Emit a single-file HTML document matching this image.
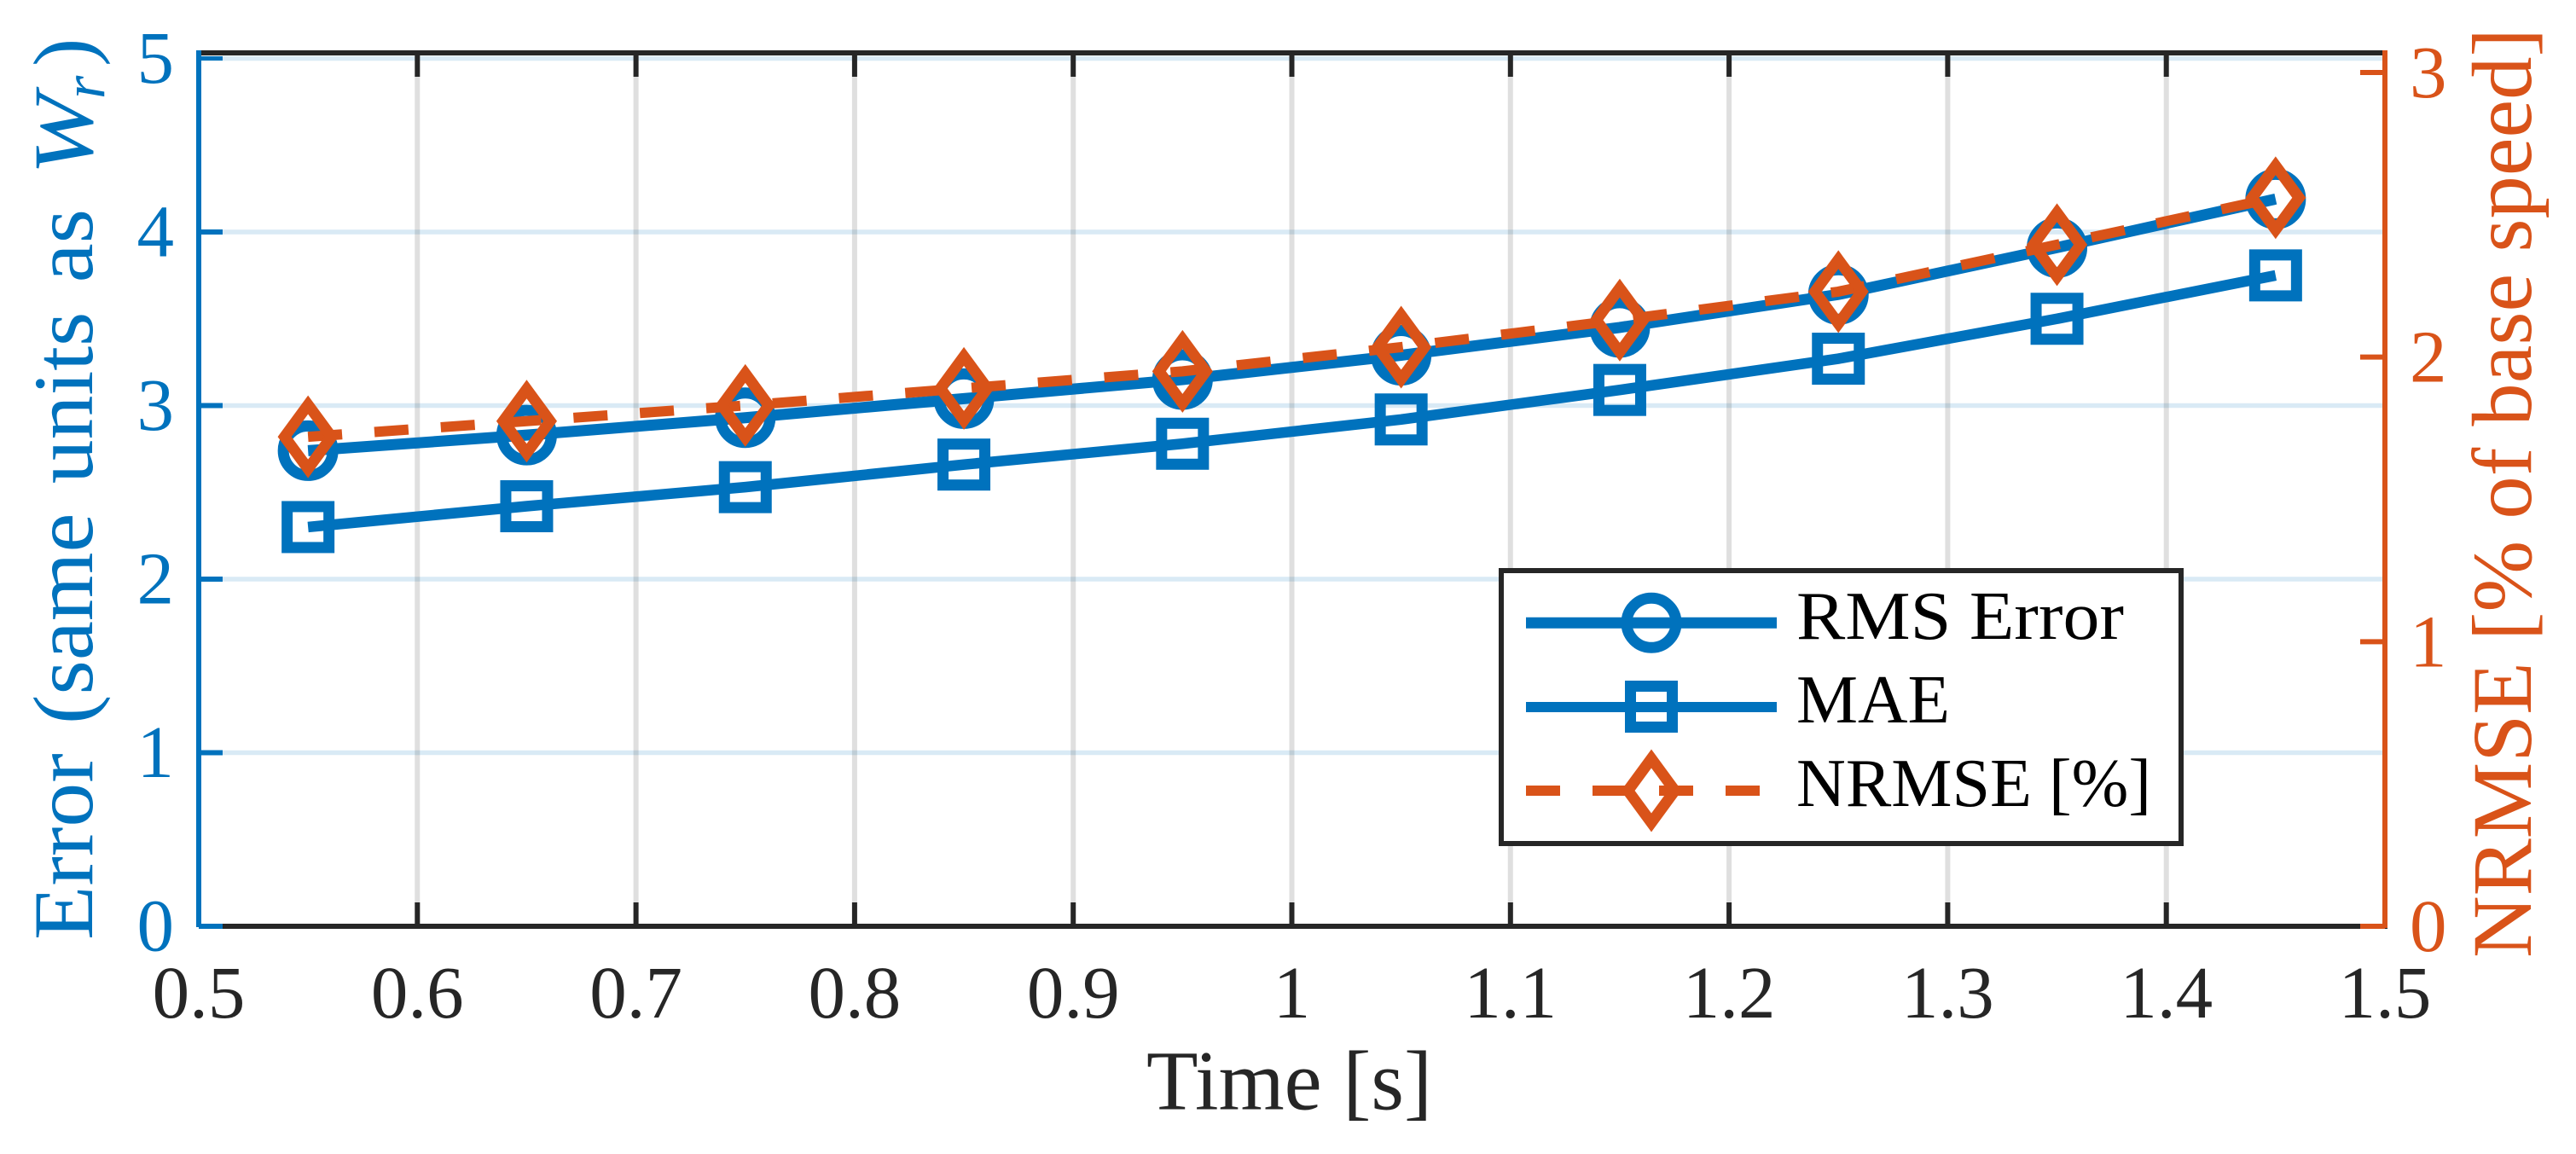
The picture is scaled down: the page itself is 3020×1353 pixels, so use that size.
<!DOCTYPE html>
<html lang="en">
<head>
<meta charset="utf-8">
<title>Error metrics over time</title>
<style>
  html, body { margin: 0; padding: 0; background: #fff; }
  svg { display: block; }
  text { font-family: "Liberation Serif", serif; }
</style>
</head>
<body>
<svg id="chart" xmlns="http://www.w3.org/2000/svg" width="3020" height="1353" viewBox="0 0 3020 1353">
  <rect x="0" y="0" width="3020" height="1353" fill="#ffffff"/>
  <g id="grid"></g>
  <g id="series"></g>
  <g id="axes"></g>

  <text x="1344" y="1300.5" font-size="100" fill="#262626" textLength="335" lengthAdjust="spacingAndGlyphs">Time [s]</text>

  <g fill="#0072BD">
    <text transform="translate(108,1102) rotate(-90)" font-size="100" word-spacing="8" textLength="857" lengthAdjust="spacingAndGlyphs">Error (same units as</text>
    <text transform="translate(108,205) rotate(-90) scale(1.14,1)" font-size="100" font-style="italic">W</text>
    <text transform="translate(122,116) rotate(-90)" font-size="70" font-style="italic">r</text>
    <text transform="translate(108,78) rotate(-90)" font-size="100">)</text>
  </g>

  <text transform="translate(2967,1123) rotate(-90)" font-size="100" fill="#D95319" textLength="1090" lengthAdjust="spacingAndGlyphs">NRMSE [% of base speed]</text>

  <g id="legend">
    <rect x="1760" y="669" width="797" height="320" fill="#ffffff" stroke="#262626" stroke-width="6"/>
    <g>
      <line x1="1789" y1="730.3" x2="2083" y2="730.3" stroke="#0072BD" stroke-width="13"/>
      <circle cx="1936" cy="730.3" r="29" fill="none" stroke="#0072BD" stroke-width="13"/>
      <text x="2106" y="749" font-size="80" fill="#000000" textLength="384" lengthAdjust="spacingAndGlyphs">RMS Error</text>
    </g>
    <g>
      <line x1="1789" y1="829" x2="2083" y2="829" stroke="#0072BD" stroke-width="12"/>
      <rect x="1911.5" y="804.5" width="49" height="48" fill="none" stroke="#0072BD" stroke-width="13"/>
      <text x="2106" y="847" font-size="80" fill="#000000" textLength="180" lengthAdjust="spacingAndGlyphs">MAE</text>
    </g>
    <g>
      <line x1="1789" y1="927" x2="2083" y2="927" stroke="#D95319" stroke-width="12" stroke-dasharray="40 38"/>
      <path d="M1936 889.5 L1963.5 927 L1936 964.5 L1908.5 927 Z" fill="none" stroke="#D95319" stroke-width="13" stroke-miterlimit="10"/>
      <text x="2106" y="945" font-size="80" fill="#000000" textLength="416" lengthAdjust="spacingAndGlyphs">NRMSE [%]</text>
    </g>
  </g>
</svg>

<script>
// Chart data
const times = [0.55, 0.65, 0.75, 0.85, 0.95, 1.05, 1.15, 1.25, 1.35, 1.45];
const rmsError = [2.74, 2.83, 2.93, 3.04, 3.15, 3.29, 3.45, 3.64, 3.91, 4.19];
const maeValues = [2.30, 2.42, 2.53, 2.66, 2.78, 2.92, 3.09, 3.27, 3.50, 3.75];
const nrmseValues = [1.72, 1.775, 1.83, 1.89, 1.95, 2.035, 2.13, 2.23, 2.395, 2.56];
const xTicks = [0.5, 0.6, 0.7, 0.8, 0.9, 1, 1.1, 1.2, 1.3, 1.4, 1.5];
const xTickLabels = ["0.5", "0.6", "0.7", "0.8", "0.9", "1", "1.1", "1.2", "1.3", "1.4", "1.5"];
const leftTicks = [0, 1, 2, 3, 4, 5];
const leftTickLabels = ["0", "1", "2", "3", "4", "5"];
const rightTicks = [0, 1, 2, 3];
const rightTickLabels = ["0", "1", "2", "3"];

const NS = "http://www.w3.org/2000/svg";
const BLUE = "#0072BD", ORANGE = "#D95319", DARK = "#262626";

function xPos(v) { return 233 + (v - 0.5) * 2563; }
function yLeft(v) { return 1086 - v * 203.5; }
function yRight(v) { return 1086 - v * 333.67; }

function make(parent, tag, attrs, content) {
  const node = document.createElementNS(NS, tag);
  for (const key in attrs) node.setAttribute(key, attrs[key]);
  if (content !== undefined) node.textContent = content;
  parent.appendChild(node);
  return node;
}

const gridG = document.getElementById("grid");
const seriesG = document.getElementById("series");
const axesG = document.getElementById("axes");

// Gridlines
leftTicks.forEach(function (t) {
  const el = make(gridG, "line", { x1: 233, x2: 2796, y1: yLeft(t), y2: yLeft(t), stroke: BLUE, "stroke-opacity": 0.15, "stroke-width": 5.5 });
  
  
});
xTicks.forEach(function (t) {
  if (t === 0.5 || t === 1.5) return;
  const el = make(gridG, "line", { x1: xPos(t), x2: xPos(t), y1: 62, y2: 1086, stroke: DARK, "stroke-opacity": 0.15, "stroke-width": 6 });
  
  
});

// Series
function polyPoints(values, yFn) {
  return times.map(function (t, i) { return xPos(t) + "," + yFn(values[i]); }).join(" ");
}

const rmsLine = make(seriesG, "polyline", { points: polyPoints(rmsError, yLeft), fill: "none", stroke: BLUE, "stroke-width": 13 });


times.forEach(function (t, i) {
  const el = make(seriesG, "circle", { cx: xPos(t), cy: yLeft(rmsError[i]), r: 29, fill: "none", stroke: BLUE, "stroke-width": 13 });
  
  
});

const maeLine = make(seriesG, "polyline", { points: polyPoints(maeValues, yLeft), fill: "none", stroke: BLUE, "stroke-width": 12.5 });


times.forEach(function (t, i) {
  const cx = xPos(t), cy = yLeft(maeValues[i]);
  const el = make(seriesG, "rect", { x: cx - 24.5, y: cy - 24, width: 49, height: 48, fill: "none", stroke: BLUE, "stroke-width": 13 });
  
  
});

const nrmseLine = make(seriesG, "polyline", { points: polyPoints(nrmseValues, yRight), fill: "none", stroke: ORANGE, "stroke-width": 12, "stroke-dasharray": "40 38" });


times.forEach(function (t, i) {
  const cx = xPos(t), cy = yRight(nrmseValues[i]);
  const d = "M" + cx + " " + (cy - 37.5) + " L" + (cx + 27.5) + " " + cy + " L" + cx + " " + (cy + 37.5) + " L" + (cx - 27.5) + " " + cy + " Z";
  const el = make(seriesG, "path", { d: d, fill: "none", stroke: ORANGE, "stroke-width": 13, "stroke-miterlimit": 10 });
  
  
});

// Axis lines
const topAxis = make(axesG, "line", { x1: 233, x2: 2796, y1: 62, y2: 62, stroke: DARK, "stroke-width": 6 });


const bottomAxis = make(axesG, "line", { x1: 233, x2: 2799, y1: 1086, y2: 1086, stroke: DARK, "stroke-width": 6 });



// X ticks and labels
xTicks.forEach(function (t, i) {
  if (t !== 0.5 && t !== 1.5) {
    const tickTop = make(axesG, "line", { x1: xPos(t), x2: xPos(t), y1: 62, y2: 90, stroke: DARK, "stroke-width": 6 });
    
    
    const tickBottom = make(axesG, "line", { x1: xPos(t), x2: xPos(t), y1: 1058, y2: 1086, stroke: DARK, "stroke-width": 6 });
    
    
  }
  const label = make(axesG, "text", { x: xPos(t), y: 1193, "font-size": 87, fill: DARK, "text-anchor": "middle" }, xTickLabels[i]);
  
  
});

// Left axis
const leftAxis = make(axesG, "line", { x1: 233, x2: 233, y1: 59, y2: 1087, stroke: BLUE, "stroke-width": 6 });


leftTicks.forEach(function (t, i) {
  const tick = make(axesG, "line", { x1: 233, x2: 261, y1: yLeft(t), y2: yLeft(t), stroke: BLUE, "stroke-width": t === 5 ? 5 : 6 });
  
  
  const label = make(axesG, "text", { x: 204, y: yLeft(t) + 28.5, "font-size": 87, fill: BLUE, "text-anchor": "end" }, leftTickLabels[i]);
  
  
});

// Right axis
const rightAxis = make(axesG, "line", { x1: 2796, x2: 2796, y1: 59, y2: 1088, stroke: ORANGE, "stroke-width": 6 });


rightTicks.forEach(function (t, i) {
  const tick = make(axesG, "line", { x1: 2767, x2: 2796, y1: yRight(t), y2: yRight(t), stroke: ORANGE, "stroke-width": 6 });
  
  
  const label = make(axesG, "text", { x: 2825, y: yRight(t) + 29, "font-size": 87, fill: ORANGE, "text-anchor": "start" }, rightTickLabels[i]);
  
  
});
</script>
</body>
</html>
